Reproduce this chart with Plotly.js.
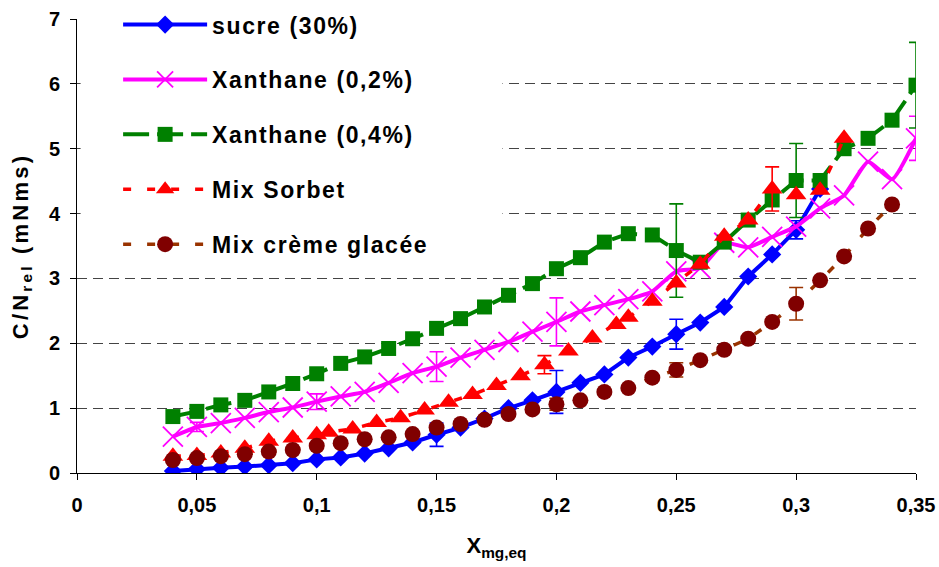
<!DOCTYPE html>
<html><head><meta charset="utf-8">
<script src="https://cdn.plot.ly/plotly-3.0.1.min.js"></script>
<style>
html,body{margin:0;padding:0;background:#fff}
#chart{width:939px;height:567px}
.legendtext{letter-spacing:1.6px}
.ytitle{letter-spacing:3.2px}
</style></head><body><div id="chart"></div>
<script>
// ---- data ----
const sucreX = [0.04,0.05,0.06,0.07,0.08,0.09,0.10,0.11,0.12,0.13,0.14,0.15,0.16,0.17,0.18,0.19,0.20,0.21,0.22,0.23,0.24,0.25,0.26,0.27,0.28,0.29,0.30,0.31];
const sucreY = [0.03,0.06,0.08,0.10,0.12,0.15,0.21,0.24,0.30,0.38,0.47,0.59,0.70,0.84,1.00,1.12,1.25,1.39,1.52,1.78,1.95,2.14,2.32,2.56,3.03,3.37,3.75,4.38];
const sucreErrX = [0.15,0.20,0.25,0.30];
const sucreErr  = [0.18,0.33,0.23,0.14];

const xan2X = [0.04,0.05,0.06,0.07,0.08,0.09,0.10,0.11,0.12,0.13,0.14,0.15,0.16,0.17,0.18,0.19,0.20,0.21,0.22,0.23,0.24,0.25,0.26,0.27,0.28,0.29,0.30,0.31,0.32,0.33,0.34,0.35];
const xan2Y = [0.56,0.71,0.77,0.85,0.94,1.01,1.10,1.18,1.25,1.39,1.54,1.64,1.78,1.90,2.02,2.18,2.33,2.49,2.59,2.68,2.80,3.11,3.16,3.55,3.48,3.64,3.80,4.08,4.28,4.80,4.53,5.16];
const xan2ErrX = [0.05,0.10,0.15,0.20,0.35];
const xan2Err  = [0.07,0.12,0.23,0.37,0.34];

const xan4X = [0.04,0.05,0.06,0.07,0.08,0.09,0.10,0.11,0.12,0.13,0.14,0.15,0.16,0.17,0.18,0.19,0.20,0.21,0.22,0.23,0.24,0.25,0.26,0.27,0.28,0.29,0.30,0.31,0.32,0.33,0.34,0.35];
const xan4Y = [0.87,0.95,1.05,1.12,1.25,1.38,1.53,1.69,1.79,1.92,2.07,2.23,2.38,2.56,2.74,2.92,3.15,3.32,3.56,3.69,3.67,3.43,3.25,3.56,3.90,4.21,4.51,4.51,5.00,5.16,5.44,5.98];
const xan4ErrX = [0.10,0.25,0.30,0.35];
const xan4Err  = [0.05,0.72,0.57,0.66];

const sorbetX = [0.04,0.05,0.06,0.07,0.08,0.09,0.10,0.105,0.115,0.125,0.135,0.145,0.155,0.165,0.175,0.185,0.195,0.205,0.215,0.225,0.23,0.24,0.25,0.26,0.27,0.28,0.29,0.30,0.31,0.32];
const sorbetY = [0.26,0.27,0.31,0.38,0.49,0.54,0.59,0.63,0.68,0.78,0.85,0.97,1.09,1.21,1.35,1.50,1.67,1.88,2.08,2.29,2.40,2.65,2.93,3.22,3.65,3.90,4.38,4.29,4.36,5.16];
const sorbetErrX = [0.195,0.29];
const sorbetErr  = [0.14,0.34];

const cremeX = [0.04,0.05,0.06,0.07,0.08,0.09,0.10,0.11,0.12,0.13,0.14,0.15,0.16,0.17,0.18,0.19,0.20,0.21,0.22,0.23,0.24,0.25,0.26,0.27,0.28,0.29,0.30,0.31,0.32,0.33,0.34];
const cremeY = [0.20,0.23,0.26,0.29,0.33,0.355,0.42,0.46,0.52,0.55,0.60,0.70,0.755,0.82,0.91,0.98,1.06,1.12,1.25,1.31,1.47,1.59,1.74,1.90,2.07,2.33,2.61,2.97,3.34,3.77,4.14];
const cremeErrX = [0.15,0.20,0.25,0.30];
const cremeErr  = [0.05,0.09,0.11,0.25];

const seriesNames = ['sucre (30%)','Xanthane (0,2%)','Xanthane (0,4%)','Mix Sorbet','Mix crème glacée'];
const xTickVals = [0,0.05,0.1,0.15,0.2,0.25,0.3,0.35];
const yTickVals = [0,1,2,3,4,5,6,7];

// ---- helpers ----
function errArray(xs, ex, ev){
  return xs.map(x => { const i = ex.findIndex(v => Math.abs(v - x) < 1e-9); return i >= 0 ? ev[i] : NaN; });
}
function errOpts(xs, ex, ev, color){
  return {type:'data', array: errArray(xs, ex, ev), visible:true, color: color, thickness:1.6, width:7};
}

const FONT = 'Liberation Sans, Arial, sans-serif';

const traces = [
  {x: sucreX, y: sucreY, name: seriesNames[0], legendgroup:'a', mode:'lines+markers',
   line:{color:'#0000FF', width:4},
   marker:{symbol:'diamond', size:14, color:'#0000FF'},
   error_y: errOpts(sucreX, sucreErrX, sucreErr, '#0000FF')},
  {x: xan2X, y: xan2Y, name: seriesNames[1], legendgroup:'b', mode:'lines+markers',
   line:{color:'#FF00FF', width:4, shape:'spline', smoothing:0.5},
   marker:{symbol:'x-thin', size:20, color:'#FF00FF', line:{color:'#FF00FF', width:1.8}},
   error_y: errOpts(xan2X, xan2ErrX, xan2Err, '#FF00FF')},
  {x: xan4X, y: xan4Y, name: seriesNames[2], legendgroup:'c', mode:'lines+markers',
   line:{color:'#008000', width:4, dash:'26px,8px'},
   marker:{symbol:'square', size:15, color:'#008000'},
   error_y: errOpts(xan4X, xan4ErrX, xan4Err, '#008000')},
  {x: sorbetX, y: sorbetY, name: seriesNames[3], legendgroup:'d', mode:'lines+markers',
   line:{color:'#FF0000', width:3.5, dash:'8px,16px'},
   marker:{symbol:'triangle-up', size:18, color:'#FF0000'},
   error_y: errOpts(sorbetX, sorbetErrX, sorbetErr, '#FF0000')},
  {x: cremeX, y: cremeY, name: seriesNames[4], legendgroup:'e', mode:'lines+markers',
   line:{color:'#993300', width:3.5, dash:'8px,16px'},
   marker:{symbol:'circle', size:16, color:'#800000'},
   error_y: errOpts(cremeX, cremeErrX, cremeErr, '#993300')}
];

const layout = {
  width:939, height:567,
  margin:{l:77, r:23, t:19, b:94, autoexpand:false},
  paper_bgcolor:'#FFFFFF', plot_bgcolor:'#FFFFFF',
  separators:', ',
  font:{family:FONT, size:20, color:'#000000', weight:'bold'},
  showlegend:true,
  legend:{x:0.049, y:1.035, xanchor:'left', yanchor:'top', bgcolor:'#FFFFFF', borderwidth:0,
    traceorder:'grouped', tracegroupgap:22, itemwidth:84,
    font:{family:FONT, size:23, color:'#000000', weight:'bold'}},
  xaxis:{range:[0,0.35], tickvals:xTickVals, tickformat:'.2~f', showgrid:false, zeroline:false,
    showline:true, linecolor:'#000000', linewidth:1, ticks:'outside', ticklen:6, tickcolor:'#000000',
    ticklabelstandoff:8,
    tickfont:{family:FONT, size:20, color:'#000000', weight:'bold'},
    title:{text:'X<sub>mg,eq</sub>', standoff:22, font:{family:FONT, size:22, color:'#000000', weight:'bold'}}},
  yaxis:{range:[0,7], tickvals:yTickVals, showgrid:true, gridcolor:'#444444', gridwidth:1, griddash:'10px,6px',
    zeroline:false, showline:true, linecolor:'#000000', linewidth:1, ticks:'outside', ticklen:6, tickcolor:'#000000',
    ticklabelstandoff:6,
    tickfont:{family:FONT, size:20, color:'#000000', weight:'bold'},
    title:{text:'C/N<sub>rel</sub> (mNms)', standoff:14, font:{family:FONT, size:22, color:'#000000', weight:'bold'}}},
  shapes:[{type:'rect', xref:'x', yref:'y', x0:0.0015, x1:0.1775, y0:3.3, y1:7.2, fillcolor:'#FFFFFF', line:{width:0}, layer:'above'}]
};

Plotly.newPlot('chart', traces, layout, {displayModeBar:false, staticPlot:true});
</script></body></html>
